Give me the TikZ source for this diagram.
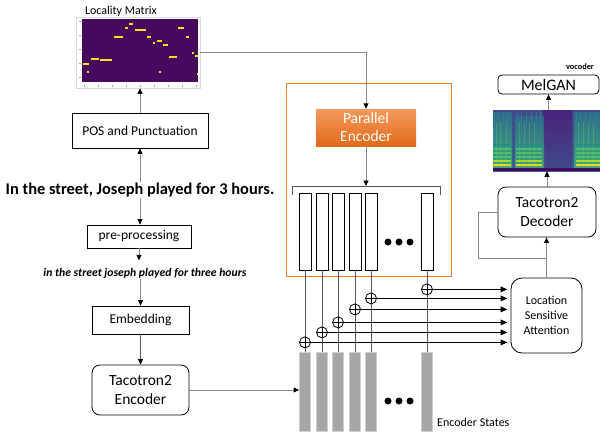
\documentclass[tikz,border=0pt]{standalone}
\usepackage{fontspec}
\setmainfont{Carlito}
\usetikzlibrary{arrows.meta,calc}

\definecolor{connc}{HTML}{8A8A8A}
\definecolor{darkconn}{HTML}{555555}
\definecolor{frameorange}{HTML}{ED7D31}
\definecolor{petop}{HTML}{F39A5E}
\definecolor{pebot}{HTML}{E36A1A}
\definecolor{vpurple}{HTML}{45095E}
\definecolor{vyellow}{HTML}{F5E01E}
\definecolor{vblue}{HTML}{42488A}
\definecolor{vbluelow}{HTML}{365F8D}
\definecolor{vdark}{HTML}{48237A}
\definecolor{vteal}{HTML}{22908C}
\definecolor{vtealtop}{HTML}{2F6E8E}
\definecolor{vgreen}{HTML}{4EC36B}
\definecolor{vlime}{HTML}{B5DE2B}
\definecolor{statefill}{HTML}{A6A6A6}
\definecolor{stateedge}{HTML}{CFCFCF}

\begin{document}
\begin{tikzpicture}[x=1pt,y=-1pt,
  box/.style={draw=black, line width=0.8pt, fill=white, inner sep=0pt, align=center},
  rbox/.style={box, rounded corners=8pt},
  tipend/.style={-{Triangle[length=5.5pt,width=5pt,color=black]}},
  conn/.style={draw=connc, line width=0.9pt, tipend},
  plain/.style={draw=connc, line width=0.9pt},
  hidden/.style={draw=black, line width=0.8pt, fill=white, inner sep=0pt, minimum width=12pt, minimum height=77pt},
  state/.style={draw=stateedge, line width=0.8pt, fill=statefill, inner sep=0pt, minimum width=11pt, minimum height=79pt},
  oplus/.style={circle, draw=black, line width=0.8pt, fill=white, minimum size=11pt, inner sep=0pt,
    path picture={\draw[line width=0.8pt] (path picture bounding box.north) -- (path picture bounding box.south)
      (path picture bounding box.west) -- (path picture bounding box.east);}},
  feed/.style={draw=black, line width=1.5pt, -{Triangle[length=7pt,width=5.5pt]}},
  dot/.style={circle, fill=black, inner sep=0pt, minimum size=7pt},
  speech/.style={top color=vtealtop, bottom color=vgreen!80!vteal},
]
\useasboundingbox (0,0) rectangle (600,432);

% ---------- locality matrix ----------
\node[draw=black!15, line width=0.6pt, fill=white, minimum width=124pt, minimum height=71pt, inner sep=0pt] (matrix) at (138,52.5) {};
\node[font=\fontsize{12}{13}\selectfont] (matlabel) at (121,11) {Locality Matrix};
\fill[vpurple] (82,19) rectangle (198,82);
\foreach \xa/\xb/\yy in {129/133/24, 125/128/28, 135/146/30, 178/184/28, 114/123/37, 147/151/37,
  186/189/37, 157/162/41, 153/155/43, 163/168/45, 192/194/53, 195/198/56, 169/177/57,
  91/99/59, 100/112/60, 83/89/64, 87/89/72, 159/161/72, 197/198/74}
  \fill[vyellow] (\xa,\yy-1) rectangle (\xb,\yy+1);
\foreach \yy in {21,35,49,63,77} \draw[black!35, line width=0.4pt] (78.5,\yy) -- (80.5,\yy);
\foreach \xx in {84,98,112,126,140,154,168,182,196} \draw[black!35, line width=0.4pt] (\xx,85) -- (\xx,86.5);

% ---------- text front end ----------
\node[box, minimum width=136pt, minimum height=35pt, font=\fontsize{13.5}{15}\selectfont] (pos) at (140,130.5) {POS and Punctuation};
\node[font=\bfseries\fontsize{16.4}{18}\selectfont, inner sep=1pt] (sent) at (140,190) {In the street, Joseph played for 3 hours.};
\node[box, minimum width=104pt, minimum height=23pt, font=\fontsize{13.5}{15}\selectfont] (pre) at (139,236.5) {pre-processing};
\node[font=\bfseries\itshape\fontsize{11.7}{13}\selectfont, inner sep=1pt] (norm) at (145,273) {in the street joseph played for three hours};
\node[box, minimum width=97pt, minimum height=28pt, font=\fontsize{13.5}{15}\selectfont] (emb) at (140.5,320) {Embedding};
\node[rbox, minimum width=97pt, minimum height=50pt, font=\fontsize{15.5}{19}\selectfont] (enc) at (140.5,390) {Tacotron2\\Encoder};

\draw[conn] (pos.north) -- (pos.north |- matrix.south);
\draw[conn] (sent.north) -- (sent.north |- pos.south);
\draw[conn] (sent.south) -- (sent.south |- pre.north);
\draw[conn] (pre.south) -- ++(0,12);
\draw[conn] (norm.south -| emb.north) -- (emb.north);
\draw[draw=darkconn, line width=0.8pt, tipend] (emb.south) -- (enc.north);

% ---------- parallel encoder block ----------
\node[draw=frameorange, line width=0.9pt, minimum width=165pt, minimum height=193pt, inner sep=0pt] (frame) at (368.5,179.5) {};
\node[top color=petop, bottom color=pebot, draw=none, minimum width=100pt, minimum height=37pt, inner sep=0pt,
  text=white, align=center, font=\fontsize{15.5}{18}\selectfont] (pe) at (366,127.5) {Parallel\\Encoder};
\draw[conn] (matrix.east) -| (pe.north);

\coordinate (brL) at (292,195);
\coordinate (brTL) at (292,186);
\coordinate (brTR) at (440,186);
\coordinate (brR) at (440,195);
\draw[darkconn, line width=0.8pt] (brL) -- (brTL) -- (brTR) -- (brR);
\draw[conn] (pe.south) -- (pe.south |- brTL);

\foreach \i/\xx in {1/305,2/322,3/338,4/355,5/371,6/427} {
  \node[hidden] (wb\i) at (\xx,231.5) {};
  \node[state] (gb\i) at (\xx,391.5) {};
}
\foreach \i/\xx in {1/388,2/399,3/410} {
  \node[dot] (tdot\i) at (\xx,242) {};
  \node[dot] (bdot\i) at (\xx,401) {};
}
\node[font=\fontsize{12}{13}\selectfont, anchor=west, inner sep=0pt] (states) at (437,422) {Encoder States};

\draw[draw=connc, line width=0.9pt, tipend] (enc.east) -- (enc.east -| gb1.west);

% ---------- attention / decoder / vocoder ----------
\node[rbox, rounded corners=11pt, minimum width=71pt, minimum height=75pt, font=\fontsize{12}{15}\selectfont] (lsa) at (546.5,315.5) {Location\\Sensitive\\Attention};
\node[rbox, minimum width=98pt, minimum height=50pt, font=\fontsize{15.5}{19}\selectfont] (dec) at (547,212) {Tacotron2\\Decoder};
\node[rbox, rounded corners=4pt, minimum width=101pt, minimum height=19pt, font=\fontsize{16}{17}\selectfont] (mel) at (548.5,84.5) {MelGAN};
\node[font=\bfseries\fontsize{8.3}{9}\selectfont] (voc) at (580,67) {vocoder};

% mel spectrogram
\node[draw=black!35, line width=0.6pt, minimum width=107pt, minimum height=61pt, inner sep=0pt] (spec) at (546.5,140.5) {};
\begin{scope}
  \clip (493,110) rectangle (600,171);
  \shade[top color=vblue, bottom color=vbluelow] (493,110) rectangle (600,171);
  \shade[top color=vdark, bottom color=vblue] (543,110) rectangle (572,168);
  % voiced segments
  \shade[speech, opacity=0.85] (493,112) rectangle (512,168);
  \shade[speech, opacity=0.75] (515,116) rectangle (544,168);
  \shade[speech, opacity=0.85] (574,112) rectangle (600,168);
  \foreach \xx in {494,498,503,508,517,521,526,531,536,540,576,580,585,590,595}
    \fill[vteal, opacity=0.6] (\xx,112) rectangle (\xx+1.4,166);
  \foreach \xx in {496,500,506,519,524,529,534,578,583,588,593}
    \fill[vgreen, opacity=0.45] (\xx,122) rectangle (\xx+1.2,166);
  \foreach \yy/\c in {144/vteal,148/vgreen,152/vgreen,156/vgreen,160/vlime,164/vyellow} {
    \fill[\c, opacity=0.9] (493,\yy) rectangle (511,\yy+1.6);
    \fill[\c, opacity=0.9] (516,\yy) rectangle (542,\yy+1.6);
    \fill[\c, opacity=0.9] (576,\yy) rectangle (600,\yy+1.6);
  }
  \fill[vpurple] (493,168) rectangle (600,171);
\end{scope}

\draw[conn] (lsa.north) -- (lsa.north |- dec.south);
\coordinate (fb) at (478,258);
\draw[plain] (dec.west) -| (fb) -- (fb -| lsa.north);
\draw[conn] (dec.north) -- (dec.north |- spec.south);
\draw[conn] (spec.north -| mel.south) -- (mel.south);

% ---------- state combination ----------
\foreach \i in {1,...,6} \draw[darkconn, line width=0.8pt] (wb\i.south) -- (gb\i.north);
\foreach \i/\yy in {1/342,2/332,3/322,4/309,5/298,6/289} {
  \path (wb\i.south) ++(0,\yy-270) coordinate (cp\i);
  \node[oplus] (c\i) at (cp\i) {};
  \draw[feed] (c\i.east) -- ($(c\i.east -| lsa.west)+(-3,0)$);
}

\end{tikzpicture}
\end{document}
